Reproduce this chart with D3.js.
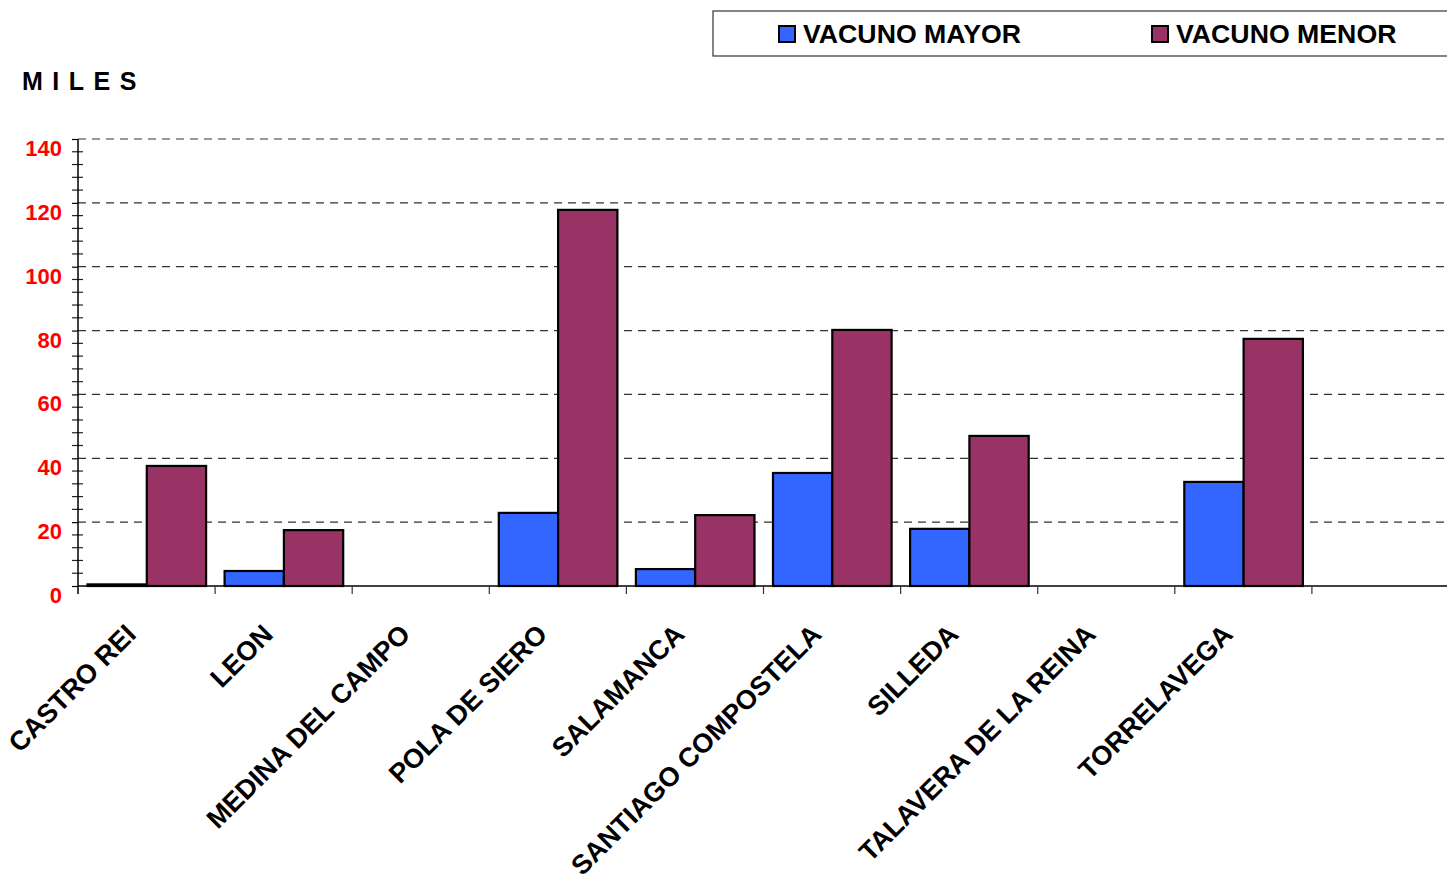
<!DOCTYPE html>
<html><head><meta charset="utf-8">
<script src="https://cdn.jsdelivr.net/npm/d3@7/dist/d3.min.js"></script>
<style>body{margin:0;background:#fff;}svg{display:block;font-family:"Liberation Sans",Arial,sans-serif;}</style>
</head><body>
<svg id="c" width="1447" height="881"></svg>
<script>
const categories = ["CASTRO REI","LEON","MEDINA DEL CAMPO","POLA DE SIERO","SALAMANCA","SANTIAGO COMPOSTELA","SILLEDA","TALAVERA DE LA REINA","TORRELAVEGA",""];
const seriesNames = ["VACUNO MAYOR","VACUNO MENOR"];
const vacunoMayor = [0.5, 4.7, 0, 22.9, 5.3, 35.4, 17.9, 0, 32.6, null];
const vacunoMenor = [37.6, 17.5, 0, 117.8, 22.2, 80.2, 47.0, 0, 77.4, null];
const yTicks = [0,20,40,60,80,100,120,140];
const colors = ["#3366FF","#993366"];

(function(){
const svg = d3.select("#c");
const pL = 78, pR = 1449, pT = 139, pB = 586, W = 1447;
const x = d3.scaleBand().domain(categories.map((d,i)=>i)).range([pL,pR]).padding(0);
const y = d3.scaleLinear().domain([0,140]).range([pB,pT]);
const inner = d3.scaleBand().domain([0,1]).range([9.5, x.bandwidth()-9]).padding(0);

// gridlines
svg.append("g").selectAll("line").data(yTicks.filter(d=>d>0)).join("line")
  .attr("x1",pL).attr("x2",W).attr("y1",d=>y(d)).attr("y2",d=>y(d))
  .attr("stroke","#333").attr("stroke-width",1.2).attr("stroke-dasharray","8,6");

// bars
const data = categories.map((c,i)=>({i, vals:[vacunoMayor[i], vacunoMenor[i]]}));
const g = svg.append("g").selectAll("g").data(data).join("g").attr("transform",d=>`translate(${x(d.i)},0)`);
g.selectAll("rect").data(d=>d.vals.map((v,k)=>({v,k})).filter(o=>o.v)).join("rect")
  .attr("x",o=>inner(o.k)).attr("width",inner.bandwidth())
  .attr("y",o=>y(o.v)).attr("height",o=>pB-y(o.v))
  .attr("fill",o=>colors[o.k]).attr("stroke","#000").attr("stroke-width",2.2);

// y axis minor ticks
const minor = d3.range(0,141,4).filter(d=>d%20!==0);
svg.append("g").selectAll("line").data(minor).join("line")
  .attr("x1",pL-6).attr("x2",pL+5).attr("y1",d=>y(d)).attr("y2",d=>y(d))
  .attr("stroke","#222").attr("stroke-width",1.2);
const yAxis = d3.axisLeft(y).tickValues(yTicks).tickSize(6).tickPadding(10).tickFormat(d3.format("d"));
const ya = svg.append("g").attr("transform",`translate(${pL},0)`).call(yAxis);
ya.select(".domain").remove();
ya.selectAll(".tick line").attr("stroke","#000").attr("stroke-width",1.2);
ya.selectAll("text").attr("fill","#ff0000").attr("font-size",22).attr("font-weight","bold")
  .attr("font-family","'Liberation Sans',Arial,sans-serif").attr("dy","0.75em").attr("x",-16);
svg.append("line").attr("x1",pL).attr("x2",pL).attr("y1",pT).attr("y2",pB+8).attr("stroke","#000").attr("stroke-width",1.5);

// x axis
svg.append("line").attr("x1",pL).attr("x2",W).attr("y1",pB).attr("y2",pB).attr("stroke","#000").attr("stroke-width",1.5);
svg.append("g").selectAll("line").data(categories.map((d,i)=>i).slice(1)).join("line")
  .attr("x1",i=>x(i)).attr("x2",i=>x(i)).attr("y1",pB).attr("y2",pB+8)
  .attr("stroke","#333").attr("stroke-width",1.2);
svg.append("g").selectAll("text").data(data).join("text")
  .attr("transform",d=>`translate(${x(d.i)+x.bandwidth()/2-9},636) rotate(-45)`)
  .attr("text-anchor","end").attr("font-size",27).attr("font-weight","bold").attr("fill","#000")
  .text(d=>categories[d.i]);

// title
svg.append("text").attr("x",22).attr("y",90).attr("font-size",25).attr("font-weight","bold")
  .attr("letter-spacing",9.5).text("MILES");

// legend
svg.append("rect").attr("x",713).attr("y",11).attr("width",760).attr("height",45)
  .attr("fill","#fff").attr("stroke","#333").attr("stroke-width",1.2);
const lx = [779,1152];
const lg = svg.append("g").selectAll("g").data(seriesNames).join("g").attr("transform",(d,i)=>`translate(${lx[i]},0)`);
lg.append("rect").attr("x",0).attr("y",26).attr("width",16).attr("height",16).attr("fill",(d,i)=>colors[i]).attr("stroke","#000").attr("stroke-width",2);
lg.append("text").attr("x",24).attr("y",43).attr("font-size",26.7).attr("font-weight","bold").text(d=>d);
})();
</script>
</body></html>
